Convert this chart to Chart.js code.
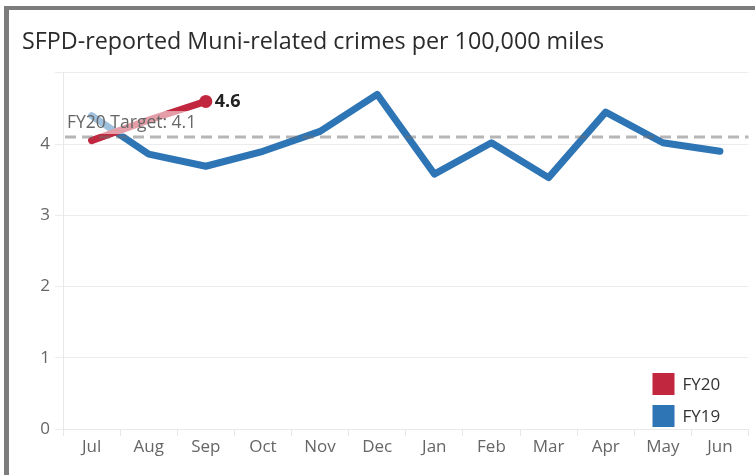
<!DOCTYPE html>
<html>
<head>
<meta charset="utf-8">
<script src="https://cdn.jsdelivr.net/npm/chart.js@4.4.0/dist/chart.umd.min.js"></script>
<style>
  body { margin: 0; background: #fff; }
  #frame { position: absolute; left: 4px; top: 6px; width: 800px; height: 520px;
           border-left: 5px solid #7d7d7d; border-top: 4px solid #7d7d7d; }
  #canvas { position: absolute; left: 0; top: 0; }
</style>
</head>
<body>
<div id="frame"></div>
<canvas id="canvas" width="755" height="475"></canvas>
<script>
var months = ['Jul', 'Aug', 'Sep', 'Oct', 'Nov', 'Dec', 'Jan', 'Feb', 'Mar', 'Apr', 'May', 'Jun'];
var fy19 = [4.4, 3.86, 3.69, 3.9, 4.18, 4.7, 3.58, 4.02, 3.53, 4.45, 4.02, 3.9];
var fy20 = [4.05, 4.34, 4.6];
var target = 4.1;
var targetLabel = 'FY20 Target: 4.1';

var red = '#c1283f';
var blue = '#2e75b6';
var font = "'Open Sans', 'Segoe UI', sans-serif";

// target line, value label and legend drawn on top of the lines
var extras = {
    id: 'extras',
    afterDatasetsDraw: function(chart) {
        var ctx = chart.ctx;
        var area = chart.chartArea;
        var y = chart.scales.y.getPixelForValue(target);

        ctx.save();
        // label box behind target text
        ctx.font = '17.5px ' + font;
        var w = ctx.measureText(targetLabel).width;
        ctx.fillStyle = 'rgba(255,255,255,0.55)';
        ctx.fillRect(area.left + 3, y - 26, w + 4, 23);
        ctx.fillStyle = '#666';
        ctx.textBaseline = 'middle';
        ctx.fillText(targetLabel, area.left + 4, y - 14);

        ctx.strokeStyle = 'rgba(110,110,110,0.5)';
        ctx.lineWidth = 3;
        ctx.setLineDash([11, 6]);
        ctx.beginPath();
        ctx.moveTo(area.left + 2, y);
        ctx.lineTo(area.right, y);
        ctx.stroke();
        ctx.setLineDash([]);

        // last FY20 value
        var pts = chart.getDatasetMeta(0).data;
        var last = pts[fy20.length - 1];
        ctx.font = 'bold 18px ' + font;
        ctx.fillStyle = '#222';
        ctx.fillText(fy20[fy20.length - 1].toFixed(1), last.x + 9, last.y);

        // legend
        var items = [['FY20', red], ['FY19', blue]];
        ctx.font = '17px ' + font;
        for (var i = 0; i < items.length; i++) {
            var top = area.bottom - 56 + i * 32;
            ctx.fillStyle = items[i][1];
            ctx.fillRect(area.right - 96, top, 22, 22);
            ctx.fillStyle = '#333';
            ctx.fillText(items[i][0], area.right - 66, top + 12);
        }
        ctx.restore();
    }
};

window.onload = function() {
    var ctx = document.getElementById('canvas').getContext('2d');
    window.myLine = new Chart(ctx, {
        type: 'line',
        data: {
            labels: months,
            datasets: [{
                label: 'FY20',
                data: fy20,
                borderColor: red,
                backgroundColor: red,
                borderWidth: 7,
                borderCapStyle: 'round',
                borderJoinStyle: 'round',
                pointRadius: [0, 0, 6.5],
                pointBorderWidth: 0,
                pointBackgroundColor: red
            }, {
                label: 'FY19',
                data: fy19,
                borderColor: blue,
                backgroundColor: blue,
                borderWidth: 7,
                borderCapStyle: 'round',
                borderJoinStyle: 'round',
                pointRadius: 0
            }]
        },
        options: {
            responsive: false,
            animation: false,
            layout: { padding: { left: 22, right: 3, top: 0, bottom: 17 } },
            plugins: {
                legend: { display: false },
                tooltip: { enabled: false },
                title: {
                    display: true,
                    text: 'SFPD-reported Muni-related crimes per 100,000 miles',
                    align: 'start',
                    color: '#2b2b2b',
                    font: { family: font, size: 23.3, weight: 'normal', lineHeight: 1.2 },
                    padding: { top: 28, bottom: 17 }
                }
            },
            scales: {
                x: {
                    offset: true,
                    grid: { offset: true, drawOnChartArea: false, tickLength: 7, color: '#e8e8e8' },
                    border: { color: '#e8e8e8' },
                    ticks: { color: '#666', padding: 1, font: { family: font, size: 17 } },
                    afterFit: function(scale) { scale.height = 29; }
                },
                y: {
                    min: 0,
                    max: 5,
                    grid: { color: '#ececec', tickLength: 8 },
                    border: { color: '#e8e8e8' },
                    ticks: {
                        stepSize: 1,
                        color: '#666',
                        padding: 5,
                        font: { family: font, size: 17 },
                        callback: function(v) { return v === 5 ? '' : v; }
                    },
                    afterFit: function(scale) { scale.width = 41; }
                }
            }
        },
        plugins: [extras]
    });
};
</script>
</body>
</html>
